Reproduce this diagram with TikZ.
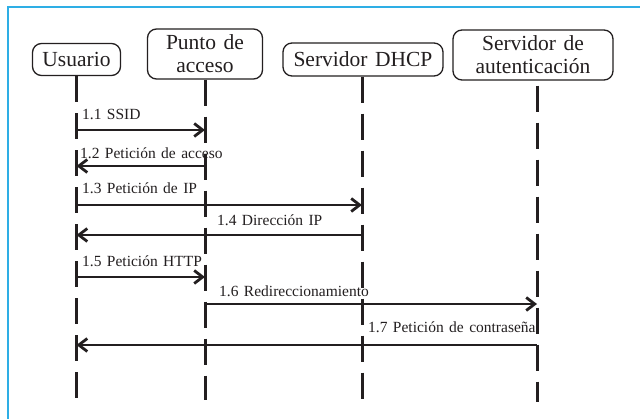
\documentclass[tikz,border=0pt]{standalone}
\usepackage{fontspec}
\setmainfont{Liberation Serif}[WordSpace=1.4]
\usetikzlibrary{arrows.meta}
\definecolor{ink}{HTML}{231F20}
\definecolor{framecol}{HTML}{2EAEE5}

\begin{document}
\begin{tikzpicture}[x=1pt,y=-1pt,
  actor/.style={draw=ink, line width=1.3pt, rounded corners=9pt, align=center,
    font=\fontsize{21.5}{23}\selectfont, text=ink, inner sep=0pt},
  lifeline/.style={draw=ink, line width=3pt, dash pattern=on 26pt off 11pt},
  msg/.style={draw=ink, line width=2.8pt, -{Straight Barb[length=8.5pt,width=13pt]}},
  lbl/.style={font=\fontsize{15.5}{17}\selectfont, text=ink, inner sep=0pt, anchor=base west},
]
\useasboundingbox (0,0) rectangle (640,419);
\fill[white] (0,0) rectangle (640,419);
\draw[framecol, line width=2pt] (7.5,419) -- (7.5,7.5) -- (640,7.5);

% participants
\node[actor, minimum width=88pt, minimum height=32pt] (u) at (76.5,59.5) {Usuario};
\node[actor, minimum width=115pt, minimum height=50pt] (p) at (205,54) {Punto de\\acceso};
\node[actor, minimum width=160pt, minimum height=33pt] (d) at (363,59.5) {Servidor DHCP};
\node[actor, minimum width=160pt, minimum height=50pt] (a) at (533,55) {Servidor de\\autenticación};

% lifelines (the authentication server's runs slightly right of its box centre)
\coordinate (uTop) at (u.south);
\coordinate (pTop) at (p.south);
\coordinate (dTop) at ([xshift=-1pt]d.south);
\coordinate (aTop) at ([xshift=4pt,yshift=-5pt]a.south);
\coordinate (uEnd) at (uTop |- 0,400);
\coordinate (pEnd) at (pTop |- 0,400);
\coordinate (dEnd) at (dTop |- 0,400);
\coordinate (aEnd) at (aTop |- 0,402);
\draw[lifeline] (uTop) -- (uEnd);
\draw[lifeline] (pTop) -- (pEnd);
\draw[lifeline] (dTop) -- (dEnd);
\draw[lifeline] (aTop) -- (aEnd);

% messages
\draw[msg] (uTop |- 0,130) -- (pTop |- 0,130);
\draw[msg] (pTop |- 0,166) -- (uTop |- 0,166);
\draw[msg] (uTop |- 0,205) -- (dTop |- 0,205);
\draw[msg] (dTop |- 0,235) -- (uTop |- 0,235);
\draw[msg] (uTop |- 0,277) -- (pTop |- 0,277);
\draw[msg] (pTop |- 0,304) -- (aTop |- 0,304);
\draw[msg] (aTop |- 0,345) -- (uTop |- 0,345);

% message labels
\node[lbl] (l1) at (82,120) {1.1 SSID};
\node[lbl] (l2) at (80,159) {1.2 Petición de acceso};
\node[lbl] (l3) at (82,194) {1.3 Petición de IP};
\node[lbl] (l4) at (217,226) {1.4 Dirección IP};
\node[lbl] (l5) at (82,267) {1.5 Petición HTTP};
\node[lbl] (l6) at (219,297) {1.6 Redireccionamiento};
\node[lbl] (l7) at (368,333) {1.7 Petición de contraseña};
\end{tikzpicture}
\end{document}
